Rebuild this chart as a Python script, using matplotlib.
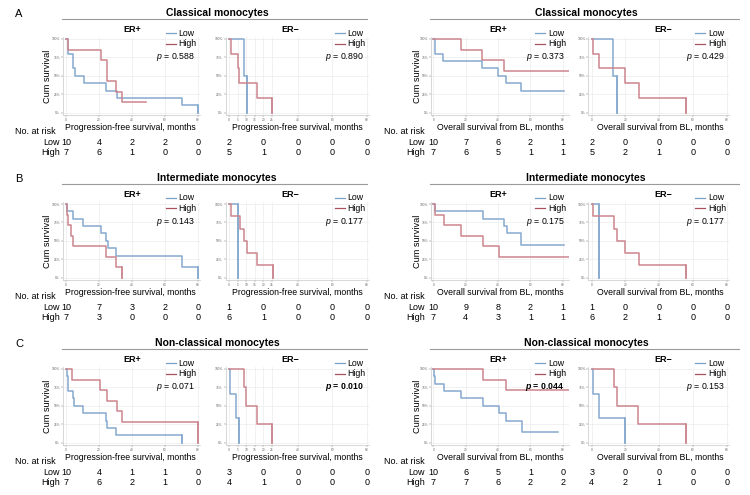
import matplotlib
matplotlib.use('Agg')
import matplotlib.pyplot as plt
from matplotlib.lines import Line2D
from matplotlib.transforms import blended_transform_factory

plt.rcParams['font.family'] = 'Liberation Sans'
plt.rcParams['mathtext.fontset'] = 'custom'
plt.rcParams['mathtext.it'] = 'Liberation Sans:italic'
plt.rcParams['mathtext.bf'] = 'Liberation Sans:italic:bold'

# Kaplan-Meier steps: (months, survival after the step)
a_pfs_pos_low = [(0, 1), (1, .8), (4, .7), (4.5, .6), (5.5, .5), (11, .4), (24.5, .3), (31, .2), (70, .1), (80, 0)]
a_pfs_pos_high = [(0, 1), (1, .857), (21, .714), (25, .429), (30, .286), (34, .143), (48.5, .143)]
a_pfs_neg_low = [(0, 1), (9, .5), (10.7, 0)]
a_pfs_neg_high = [(0, 1), (1, .8), (5, .6), (6, .4), (16, .2), (25, 0)]
a_os_pos_low = [(0, 1), (1, .8), (6, .7), (30, .6), (40, .5), (45, .4), (54, .3), (81, .3)]
a_os_pos_high = [(0, 1), (17, .857), (30, .714), (44, .571), (84, .571)]
a_os_neg_low = [(0, 1), (12.8, .5), (15, 0)]
a_os_neg_high = [(0, 1), (1, .8), (4.5, .6), (20, .4), (28, .2), (56, 0)]

b_pfs_pos_low = [(0, 1), (0.5, .9), (4, .8), (10.5, .7), (21, .6), (24.5, .5), (25.5, .4), (30.5, .3), (70, .15), (80, 0)]
b_pfs_pos_high = [(0, 1), (0.5, .857), (1.5, .714), (3, .571), (4.5, .429), (24, .286), (30, .143), (34, 0)]
b_pfs_neg_low = [(0, 1), (5, 0)]
b_pfs_neg_high = [(0, 1), (1, .833), (6.5, .667), (9, .5), (10.3, .333), (16, .167), (25.4, 0)]
b_os_pos_low = [(0, 1), (1, .9), (31, .8), (44, .7), (45.5, .6), (54.5, .45), (81, .45)]
b_os_pos_high = [(0, 1), (1, .857), (6.8, .714), (17, .571), (31, .429), (40.6, .286), (84, .286)]
b_os_neg_low = [(0, 1), (4.5, 0)]
b_os_neg_high = [(0, 1), (1, .833), (13, .667), (15, .5), (20, .333), (28, .167), (56, 0)]

c_pfs_pos_low = [(0, 1), (0.5, .9), (1, .8), (1.5, .7), (4, .6), (5, .5), (10.5, .4), (24, .3), (25, .2), (30, .1), (70, 0)]
c_pfs_pos_high = [(0, 1), (3.5, .857), (20.6, .714), (24.7, .571), (30.8, .429), (34.2, .286), (80, 0)]
c_pfs_neg_low = [(0, 1), (0.5, .667), (4, .333), (6, 0)]
c_pfs_neg_high = [(0, 1), (8.7, .75), (10, .5), (16, .25), (25, 0)]
c_os_pos_low = [(0, 1), (0.5, .9), (1.2, .8), (6.8, .7), (17, .6), (31, .5), (40.6, .4), (45, .3), (54.6, .15), (77.3, .15)]
c_os_pos_high = [(0, 1), (31, .857), (45, .714), (84, .714)]
c_os_neg_low = [(0, 1), (0.6, .667), (4.3, .333), (20, 0)]
c_os_neg_high = [(0, 1), (13, .75), (15, .5), (27.7, .25), (55.7, 0)]

# numbers at risk at 0, 20, 40, 60, 80 months: (Low, High)
a_pfs_pos_risk = ([10, 4, 2, 2, 0], [7, 6, 1, 0, 0])
a_pfs_neg_risk = ([2, 0, 0, 0, 0], [5, 1, 0, 0, 0])
a_os_pos_risk = ([10, 7, 6, 2, 1], [7, 6, 5, 1, 1])
a_os_neg_risk = ([2, 0, 0, 0, 0], [5, 2, 1, 0, 0])
b_pfs_pos_risk = ([10, 7, 3, 2, 0], [7, 3, 0, 0, 0])
b_pfs_neg_risk = ([1, 0, 0, 0, 0], [6, 1, 0, 0, 0])
b_os_pos_risk = ([10, 9, 8, 2, 1], [7, 4, 3, 1, 1])
b_os_neg_risk = ([1, 0, 0, 0, 0], [6, 2, 1, 0, 0])
c_pfs_pos_risk = ([10, 4, 1, 1, 0], [7, 6, 2, 1, 0])
c_pfs_neg_risk = ([3, 0, 0, 0, 0], [4, 1, 0, 0, 0])
c_os_pos_risk = ([10, 6, 5, 1, 0], [7, 7, 6, 2, 2])
c_os_neg_risk = ([3, 0, 0, 0, 0], [4, 2, 1, 0, 0])
risk_times = [0, 20, 40, 60, 80]

# p-values (pfs+, pfs-, os+, os-), bold when significant
a_pvals = ['0.588', '0.890', '0.373', '0.429']
b_pvals = ['0.143', '0.177', '0.175', '0.177']
c_pvals = ['0.071', '0.010', '0.044', '0.153']
c_bold = [False, True, True, False]

row_titles = ['Classical monocytes', 'Intermediate monocytes', 'Non-classical monocytes']
row_letters = ['A', 'B', 'C']
y_ticks = [0, .25, .5, .75, 1]
y_ticklabels = ['0%', '25%', '50%', '75%', '100%']

LOW_C = '#86a9d0'
HIGH_C = '#cb858d'
W, H = 750, 495

fig = plt.figure(figsize=(7.5, 4.95), dpi=100)

def fx(x):
    return x / W

def fy(y):
    return 1 - y / H

# per sub-panel layout: left px, px per month, xlim, x ticks, ER label x, xlabel x, xlabel text
cols = [
    (62.7, 1.65, (-2, 81), [0, 20, 40, 60, 80], 132, 130, 'Progression-free survival, months'),
    (225.5, 1.725, (-2, 81), [0, 5, 10, 15, 20, 25, 40, 60, 80], 290, 297, 'Progression-free survival, months'),
    (430.9, 1.617, (-1.5, 84), [0, 20, 40, 60, 80], 498, 500, 'Overall survival from BL, months'),
    (588.3, 1.6875, (-2, 81.5), [0, 20, 40, 60, 80], 663, 660, 'Overall survival from BL, months'),
]
rows = [
    (39, [a_pfs_pos_low, a_pfs_neg_low, a_os_pos_low, a_os_neg_low],
     [a_pfs_pos_high, a_pfs_neg_high, a_os_pos_high, a_os_neg_high],
     [a_pfs_pos_risk, a_pfs_neg_risk, a_os_pos_risk, a_os_neg_risk], a_pvals, [False] * 4),
    (204, [b_pfs_pos_low, b_pfs_neg_low, b_os_pos_low, b_os_neg_low],
     [b_pfs_pos_high, b_pfs_neg_high, b_os_pos_high, b_os_neg_high],
     [b_pfs_pos_risk, b_pfs_neg_risk, b_os_pos_risk, b_os_neg_risk], b_pvals, [False] * 4),
    (369, [c_pfs_pos_low, c_pfs_neg_low, c_os_pos_low, c_os_neg_low],
     [c_pfs_pos_high, c_pfs_neg_high, c_os_pos_high, c_os_neg_high],
     [c_pfs_pos_risk, c_pfs_neg_risk, c_os_pos_risk, c_os_neg_risk], c_pvals, c_bold),
]
yspan = 73.7  # px from 100% to 0%

for r, (y100, lows, highs, risks, pvals, bolds) in enumerate(rows):
    y0 = y100 + yspan
    fig.text(fx(15), fy(y100 - 25), row_letters[r], fontsize=8, va='center')
    for hx, (l0, l1), tx in [(0, (62, 367), 217), (1, (430, 739), 586)]:
        fig.text(fx(tx), fy(y100 - 26), row_titles[r], fontsize=7.5, fontweight='bold',
                 ha='center', va='center')
        fig.add_artist(Line2D([fx(l0), fx(l1)], [fy(y100 - 20.5)] * 2, color='#9a9a9a', lw=0.8))
        xl = 15 if hx == 0 else 384
        xr = 60 if hx == 0 else 425
        fig.text(fx(xl), fy(y0 + 19), 'No. at risk', fontsize=6.5, va='center')
        fig.text(fx(xr), fy(y0 + 30), 'Low', fontsize=6.5, va='center', ha='right')
        fig.text(fx(xr), fy(y0 + 40), 'High', fontsize=6.5, va='center', ha='right')
        fig.text(fx(47 if hx == 0 else 417), fy(y100 + 37), 'Cum survival', fontsize=6.6,
                 rotation=90, ha='center', va='center')

    for c, (left, ppm, xlim, xt, erx, labx, xlab) in enumerate(cols):
        width = (xlim[1] - xlim[0]) * ppm
        top = y100 - 0.03 * yspan
        bot = y0 + 0.03 * yspan
        ax = fig.add_axes([fx(left), fy(bot), width / W, (bot - top) / H])
        ax.set_xlim(*xlim)
        ax.set_ylim(-0.03, 1.03)
        ax.set_xticks(xt)
        ax.set_yticks(y_ticks)
        ax.set_yticklabels(y_ticklabels)
        ax.tick_params(labelsize=2.3, length=1.2, width=0.3, pad=0.8, colors='#666666')
        ax.grid(True, color='#ececec', lw=0.5)
        ax.set_axisbelow(True)
        for sp in ['top', 'right']:
            ax.spines[sp].set_visible(False)
        for sp in ['left', 'bottom']:
            ax.spines[sp].set_color('#c8c8c8')
            ax.spines[sp].set_linewidth(0.5)

        for curve, col in [(lows[c], LOW_C), (highs[c], HIGH_C)]:
            t = [p[0] for p in curve]
            s = [p[1] for p in curve]
            ax.step(t, s, where='post', color=col, lw=1.1)
            if s[-1] == 0:
                ax.plot([t[-1], t[-1]], [s[-2], 0], color=col, lw=1.1)

        right = left + width
        fig.text(fx(erx), fy(y100 - 10), 'ER+' if c % 2 == 0 else 'ER\u2212', fontsize=6.5,
                 fontweight='bold', ha='center', va='center')
        for k, (lab, col) in enumerate([('Low', '#7aa0ca'), ('High', '#a9505c')]):
            yy = y100 - 6 + k * 10.5
            fig.add_artist(Line2D([fx(right - 34), fx(right - 24)], [fy(yy)] * 2, color=col, lw=0.9))
            fig.text(fx(right - 21), fy(yy), lab, fontsize=6.3, va='center')
        if bolds[c]:
            ptxt = r'$\mathbf{p}$ = ' + pvals[c]
            fig.text(fx(right - 5), fy(y100 + 18), ptxt, fontsize=6.3, ha='right', va='center',
                     fontweight='bold')
        else:
            ptxt = r'$\mathit{p}$ = ' + pvals[c]
            fig.text(fx(right - 5), fy(y100 + 18), ptxt, fontsize=6.3, ha='right', va='center')

        fig.text(fx(labx), fy(y0 + 15), xlab, fontsize=6.3, ha='center', va='center')

        tr = blended_transform_factory(ax.transData, fig.transFigure)
        for k, vals in enumerate(risks[c]):
            for tm, v in zip(risk_times, vals):
                ax.text(tm, fy(y0 + 30 + 10 * k), str(v), transform=tr, fontsize=6.5,
                        ha='center', va='center', clip_on=False)

fig.savefig('out.png', dpi=100)
